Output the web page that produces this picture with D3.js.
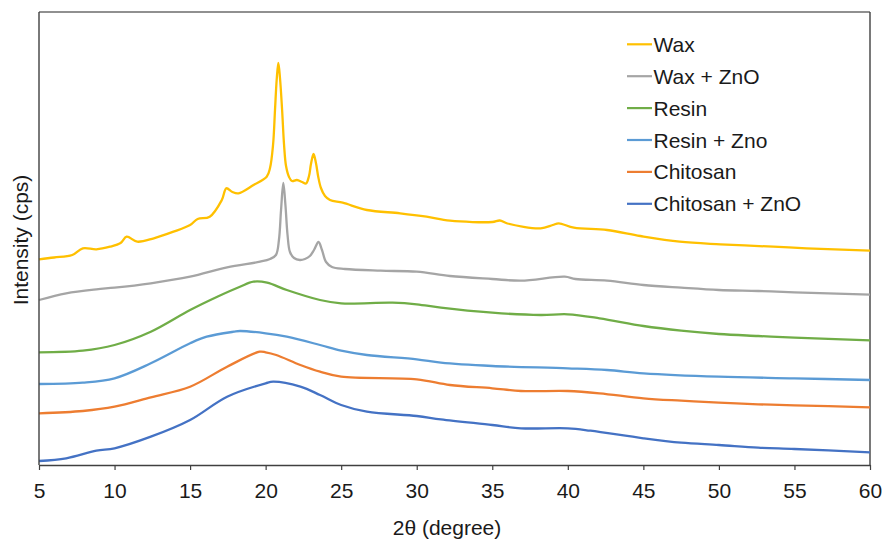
<!DOCTYPE html>
<html>
<head>
<meta charset="utf-8">
<script src="https://cdn.jsdelivr.net/npm/d3@7/dist/d3.min.js"></script>
<style>
  body { margin: 0; background: #fff; }
  svg { display: block; font-family: "Liberation Sans", Arial, sans-serif; }
</style>
</head>
<body>
<svg id="chart" width="883" height="539"></svg>
<script>
// ---- Data (2θ in degrees, intensity in arbitrary stacked units) ----
const seriesNames = ["Wax", "Wax + ZnO", "Resin", "Resin + Zno", "Chitosan", "Chitosan + ZnO"];
const seriesColors = ["#FFC000", "#A5A5A5", "#70AD47", "#5B9BD5", "#ED7D31", "#4472C4"];
const xTicks = [5, 10, 15, 20, 25, 30, 35, 40, 45, 50, 55, 60];

const waxAngle = [5, 6, 7.2, 7.9, 8.8, 9.7, 10.4, 10.8, 11.5, 12.6, 13.9, 15.0, 15.5, 16.3, 17.1, 17.4, 17.8, 18.2, 19.2,
  20.07, 20.29, 20.49, 20.62, 20.73, 20.84, 20.95, 21.09, 21.22, 21.35, 21.55, 21.74, 22.07, 22.41, 22.67, 22.87,
  23.0, 23.17, 23.33, 23.48, 23.66, 23.93, 24.26, 25.1, 26.7, 28.9, 30.65, 32.2, 35.0, 35.5, 36.0, 38.2, 39.0, 39.4,
  40.4, 42.6, 44.8, 47.4, 50.1, 53.6, 55.8, 60];
const waxIntensity = [205.7, 207.5, 210, 216.7, 215.7, 218.3, 222, 228.3, 223.3, 226.7, 233.3, 240, 246, 248.3, 265, 276.7, 273, 271.7, 280,
  288.3, 297, 320, 355, 385, 402, 387, 355, 320, 299, 288, 284, 285, 283, 281.5, 289,
  301, 311, 302, 288.3, 277, 269, 265, 262.3, 255, 251.7, 248.3, 244.3, 243, 244.5, 241.5, 236.7, 240, 241.7,
  237.3, 235, 229, 223.3, 220.7, 218.3, 216.7, 214.3];

const waxZnoAngle = [5, 6.8, 8.8, 10, 12.4, 15, 17.45, 19.63, 20.29, 20.68, 20.88, 21.02, 21.17, 21.31, 21.45, 21.61, 21.88,
  22.27, 22.6, 22.93, 23.2, 23.5, 23.73, 24.0, 24.39, 25.25, 27.6, 30, 32.2, 35, 36.9, 39.8, 40.5, 42.6, 45, 47.5, 50, 52.6, 55, 60];
const waxZnoIntensity = [165, 171.7, 175.7, 177.3, 181.7, 188.3, 197.7, 203.3, 206, 210, 225, 255, 282, 260, 230, 213, 207,
  205, 206, 209, 215, 223, 215, 203, 198, 196, 194.3, 193.3, 189, 186, 184.3, 188.3, 186, 184.3, 180, 177.3, 175, 174, 172.7, 170.3];

const resinAngle = [5, 7.9, 10, 12.4, 15, 16.8, 18.3, 19.2, 20.1, 21.4, 23.6, 25, 28.4, 30, 31.6, 35, 38.2, 40, 42.1, 45, 47.5, 50, 52.6, 55, 60];
const resinIntensity = [112.7, 114.3, 120, 133.3, 155, 168.3, 178.3, 183.3, 182.3, 175, 165, 161.7, 162.3, 160.7, 157.3, 152.3, 150, 150.7, 146.7, 139, 134.3, 131, 129, 127.3, 124.7];

const resinZnoAngle = [5, 7.9, 10, 12.4, 15, 16.1, 17.9, 18.3, 20, 21.4, 23.6, 25, 26.7, 30, 31.6, 35, 40, 42.6, 45, 50, 55, 60];
const resinZnoIntensity = [81, 82.3, 86.7, 101.7, 121.7, 128.3, 133.3, 134, 131.7, 128.3, 120, 114.3, 110, 105.7, 102.3, 99, 96.7, 95, 91.7, 88.3, 86.7, 85];

const chitosanAngle = [5, 7.9, 10, 12.4, 15, 17.45, 19.6, 20, 20.7, 22.3, 23.6, 25, 30, 32.2, 35, 36.9, 40, 42.1, 45, 47.5, 50, 52.6, 55, 60];
const chitosanIntensity = [51.7, 54, 58.3, 67.7, 78.3, 98.3, 113.3, 112.7, 110, 100, 93.3, 88.3, 85.7, 80, 76.7, 74, 74, 71.7, 66.7, 64.3, 62.3, 60.7, 59.7, 57.7];

const chitosanZnoAngle = [5, 6.8, 8.8, 10, 12.4, 15, 17.45, 20, 20.5, 22.3, 23.6, 25, 26.7, 30, 31.6, 35, 36.9, 40, 41.5, 45, 47.5, 50, 52.6, 55, 60];
const chitosanZnoIntensity = [4, 6.7, 14.3, 16.7, 28.3, 45, 68.3, 81.7, 83.3, 78.3, 70, 60, 53.3, 49, 45.7, 40, 36.7, 36.7, 34.3, 26.7, 22.3, 20, 17.3, 16, 12.7];

const seriesAngles = [waxAngle, waxZnoAngle, resinAngle, resinZnoAngle, chitosanAngle, chitosanZnoAngle];
const seriesIntensities = [waxIntensity, waxZnoIntensity, resinIntensity, resinZnoIntensity, chitosanIntensity, chitosanZnoIntensity];

// ---- Layout ----
const svg = d3.select("#chart");
const plotLeft = 39, plotRight = 870, plotTop = 12, plotBottom = 465;

const x = d3.scaleLinear().domain([5, 60]).range([plotLeft, plotRight]);
const y = d3.scaleLinear().domain([0, 453]).range([plotBottom, plotTop]);

// Frame (top & right)
svg.append("line").attr("x1", plotLeft).attr("x2", plotRight).attr("y1", plotTop).attr("y2", plotTop)
  .attr("stroke", "#6b6b6b").attr("stroke-width", 1.4);
svg.append("line").attr("x1", plotRight).attr("x2", plotRight).attr("y1", plotTop).attr("y2", plotBottom)
  .attr("stroke", "#404040").attr("stroke-width", 1.4);

// Series lines
const line = d3.line().curve(d3.curveCatmullRom.alpha(0.5)).x(d => x(d[0])).y(d => y(d[1]));
for (let i = seriesNames.length - 1; i >= 0; i--) {
  const pts = seriesAngles[i].map((a, j) => [a, seriesIntensities[i][j]]);
  svg.append("path").datum(pts)
    .attr("fill", "none")
    .attr("stroke", seriesColors[i])
    .attr("stroke-width", 2.3)
    .attr("stroke-linejoin", "round")
    .attr("d", line);
}

// X axis
const xAxis = svg.append("g").attr("transform", `translate(0,${plotBottom})`)
  .call(d3.axisBottom(x).tickValues(xTicks).tickSize(5).tickSizeOuter(0).tickFormat(d3.format("d")));
xAxis.select(".domain").attr("stroke", "#404040").attr("stroke-width", 1.4);
xAxis.selectAll(".tick line").attr("stroke", "#404040").attr("stroke-width", 1.2);
xAxis.selectAll(".tick text").attr("font-size", 21).attr("fill", "#1a1a1a")
  .attr("font-family", "'Liberation Sans', Arial, sans-serif").attr("dy", null).attr("y", 33);

// Y axis line (no ticks)
svg.append("line").attr("x1", plotLeft).attr("x2", plotLeft).attr("y1", plotTop).attr("y2", plotBottom)
  .attr("stroke", "#404040").attr("stroke-width", 1.4);

// Axis titles
svg.append("text").attr("x", 447).attr("y", 535).attr("text-anchor", "middle")
  .attr("font-size", 21).attr("fill", "#1a1a1a").text("2θ (degree)");
svg.append("text").attr("transform", "translate(28,240) rotate(-90)").attr("text-anchor", "middle")
  .attr("font-size", 21).attr("fill", "#1a1a1a").text("Intensity (cps)");

// Legend
const legendY0 = 44.3, legendStep = 31.9;
seriesNames.forEach((name, i) => {
  const yy = legendY0 + i * legendStep;
  svg.append("line").attr("x1", 627).attr("x2", 652).attr("y1", yy).attr("y2", yy)
    .attr("stroke", seriesColors[i]).attr("stroke-width", 2.2);
  svg.append("text").attr("x", 653.5).attr("y", yy + 7.5).attr("font-size", 21)
    .attr("fill", "#1a1a1a").text(name);
});
</script>
</body>
</html>
